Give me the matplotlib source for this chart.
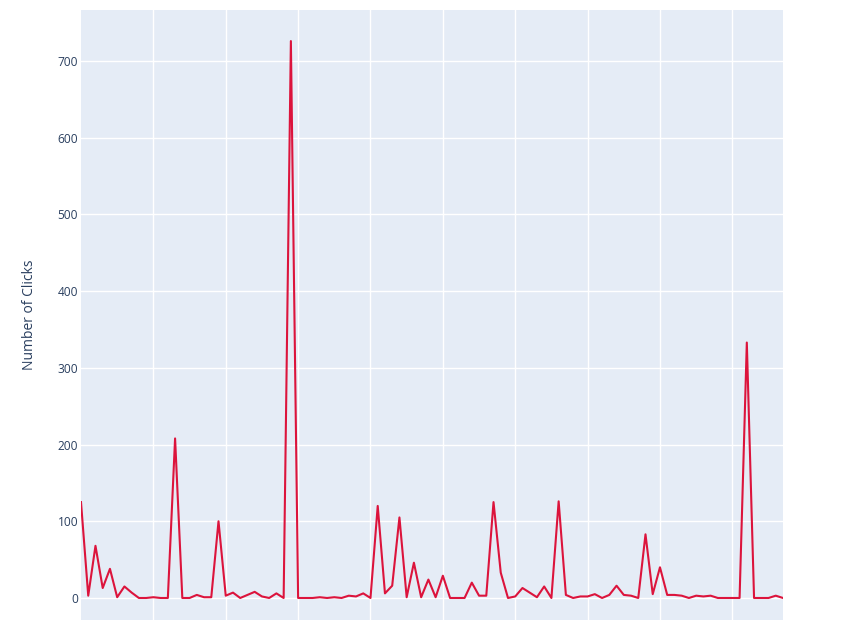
import numpy as np
import matplotlib
matplotlib.use('Agg')
import matplotlib.pyplot as plt

plt.rcParams['font.family'] = ['Open Sans', 'DejaVu Sans']

# clicks per period
clicks = [125, 3, 68, 13, 38, 1, 15, 7, 0, 0,
          1, 0, 0, 208, 0, 0, 4, 1, 1, 100,
          3, 7, 0, 4, 8, 2, 0, 6, 0, 726,
          0, 0, 0, 1, 0, 1, 0, 3, 2, 6,
          0, 120, 6, 16, 105, 1, 46, 1, 24, 1,
          29, 0, 0, 0, 20, 3, 3, 125, 33, 0,
          2, 13, 7, 1, 15, 0, 126, 4, 0, 2,
          2, 5, 0, 4, 16, 4, 3, 0, 83, 5,
          40, 4, 4, 3, 0, 3, 2, 3, 0, 0,
          0, 0, 333, 0, 0, 0, 3, 0]
x = np.arange(len(clicks))

fig = plt.figure(figsize=(8.63, 6.2), dpi=100)
ax = fig.add_axes([81 / 863, 0, 702 / 863, 610 / 620])
ax.set_facecolor('#E5ECF6')

ax.plot(x, clicks, color='crimson', linewidth=1.5, zorder=3)

ax.set_xlim(0, len(clicks) - 1)
ax.set_ylim(-28.7, 766.5)
ax.set_xticks(np.arange(10, 100, 10))
ax.set_xticklabels([])
ax.set_yticks(np.arange(0, 701, 100))
ax.grid(True, color='white', linewidth=1)
ax.set_axisbelow(True)
ax.tick_params(length=0, labelsize=8.6, labelcolor='#2a3f5f', pad=2)
for s in ax.spines.values():
    s.set_visible(False)

ax.set_ylabel('Number of Clicks', fontsize=10, color='#2a3f5f')
ax.yaxis.set_label_coords(-0.062, 0.5)

fig.savefig('out.png', dpi=100)
